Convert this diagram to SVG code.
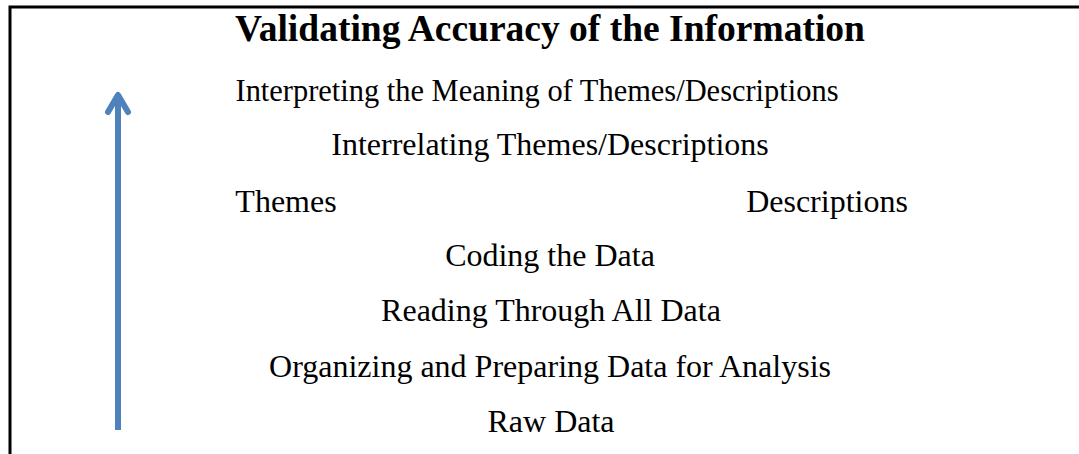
<svg xmlns="http://www.w3.org/2000/svg" width="1079" height="454" viewBox="0 0 1079 454">
  <style>
    .lbl { font-family: "Liberation Serif", "Times New Roman", serif; font-size: 32px; fill: #000; text-anchor: middle; }
    .title { font-weight: bold; font-size: 37.5px; }
  </style>
  <rect x="0" y="0" width="1079" height="454" fill="#fff"/>
  <!-- frame: top and left rules -->
  <g id="frame" stroke="#000" stroke-width="3" fill="none">
    <path d="M10 454 V7 H1079"/>
  </g>
  <g id="connectors">
    <path d="M118 430 V96" stroke="#4f81bd" stroke-width="6" fill="none"/>
    <path d="M108 112 L118 95 L128 112" stroke="#4f81bd" stroke-width="6" fill="none" stroke-linecap="round" stroke-linejoin="round"/>
  </g>
  <g id="n-validating"><text class="lbl title" x="550" y="41">Validating Accuracy of the Information</text></g>
  <g id="n-interpreting"><text class="lbl" x="537" y="101" textLength="603" lengthAdjust="spacingAndGlyphs">Interpreting the Meaning of Themes/Descriptions</text></g>
  <g id="n-interrelating"><text class="lbl" x="550" y="155">Interrelating Themes/Descriptions</text></g>
  <g id="n-themes"><text class="lbl" x="286" y="212">Themes</text></g>
  <g id="n-descriptions"><text class="lbl" x="827" y="212">Descriptions</text></g>
  <g id="n-coding"><text class="lbl" x="550" y="266">Coding the Data</text></g>
  <g id="n-reading"><text class="lbl" x="551" y="321">Reading Through All Data</text></g>
  <g id="n-organizing"><text class="lbl" x="550" y="377">Organizing and Preparing Data for Analysis</text></g>
  <g id="n-raw"><text class="lbl" x="551" y="432">Raw Data</text></g>
</svg>
